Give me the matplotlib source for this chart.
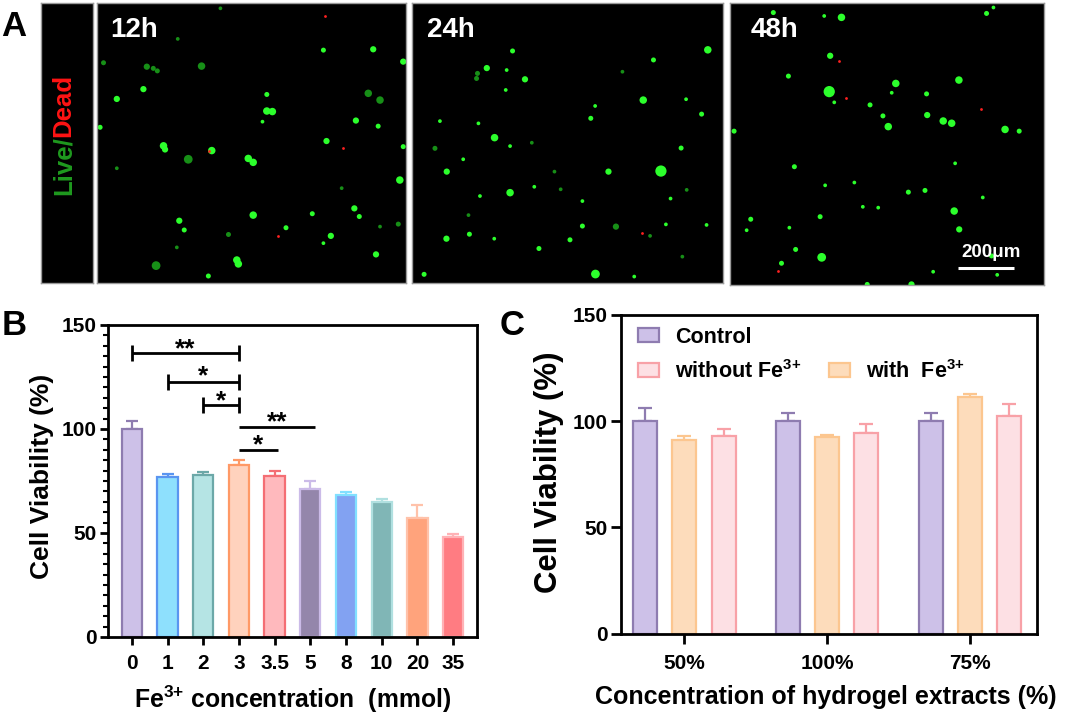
import matplotlib
matplotlib.use("Agg")
import matplotlib.pyplot as plt
from matplotlib.patches import Rectangle
import numpy as np

plt.rcParams['font.family'] = ['Liberation Sans', 'DejaVu Sans']
plt.rcParams['font.weight'] = 'bold'
plt.rcParams['mathtext.fontset'] = 'custom'
plt.rcParams['mathtext.rm'] = 'Liberation Sans:bold'
plt.rcParams['mathtext.it'] = 'Liberation Sans:bold'
plt.rcParams['mathtext.bf'] = 'Liberation Sans:bold'

# ---------------- data ----------------
# Panel A: live/dead fluorescence spots (x, y as fraction of image, y from top; d = diameter px; k = b bright / d dim)
dots12_x = [0.40, 0.894, 0.991, 0.733, 0.162, 0.183, 0.196, 0.339, 0.022, 0.151, 0.065, 0.55, 0.55, 0.568,
            0.536, 0.878, 0.916, 0.838, 0.91, 0.011, 0.743, 0.216, 0.221, 0.372, 0.296, 0.49, 0.506, 0.991,
            0.98, 0.065, 0.792, 0.833, 0.849, 0.697, 0.506, 0.267, 0.283, 0.612, 0.426, 0.757, 0.733, 0.916,
            0.975, 0.453, 0.458, 0.903, 0.192, 0.361, 0.259, 0.262]
dots12_y = [0.02, 0.166, 0.21, 0.169, 0.228, 0.234, 0.243, 0.226, 0.214, 0.308, 0.343, 0.327, 0.386, 0.388,
            0.424, 0.323, 0.347, 0.42, 0.44, 0.444, 0.493, 0.51, 0.523, 0.527, 0.558, 0.555, 0.569, 0.513,
            0.632, 0.59, 0.661, 0.733, 0.762, 0.752, 0.757, 0.777, 0.81, 0.802, 0.826, 0.831, 0.857, 0.798,
            0.789, 0.917, 0.931, 0.897, 0.937, 0.974, 0.872, 0.129]
dots12_d = [3, 5, 5, 4, 5, 4, 4, 6, 4, 5, 5, 4, 6, 6, 3, 6, 6, 5, 4, 4, 5, 6, 5, 6, 7, 6, 6, 4,
            6, 3, 3, 5, 4, 4, 6, 5, 4, 4, 4, 5, 3, 3, 4, 6, 6, 5, 7, 4, 3, 3]
dots12_k = ['d', 'b', 'b', 'b', 'd', 'd', 'd', 'd', 'd', 'b', 'b', 'b', 'b', 'b', 'b', 'd', 'd', 'b', 'b', 'b',
            'b', 'b', 'b', 'b', 'd', 'b', 'b', 'b', 'b', 'd', 'd', 'b', 'b', 'b', 'b', 'b', 'b', 'b', 'd', 'b',
            'b', 'd', 'd', 'b', 'b', 'b', 'd', 'b', 'd', 'd']
red12_x = [0.738, 0.363, 0.797, 0.585]
red12_y = [0.047, 0.527, 0.519, 0.83]

dots24_x = [0.952, 0.323, 0.24, 0.21, 0.207, 0.304, 0.363, 0.301, 0.777, 0.677, 0.744, 0.882, 0.589, 0.575,
            0.932, 0.089, 0.213, 0.265, 0.315, 0.073, 0.866, 0.164, 0.111, 0.632, 0.458, 0.801, 0.315, 0.393,
            0.478, 0.218, 0.832, 0.884, 0.548, 0.656, 0.548, 0.817, 0.948, 0.11, 0.184, 0.264, 0.508, 0.408,
            0.766, 0.87, 0.038, 0.59, 0.715, 0.181, 0.385]
dots24_y = [0.168, 0.172, 0.233, 0.252, 0.27, 0.24, 0.273, 0.311, 0.204, 0.246, 0.347, 0.344, 0.368, 0.412,
            0.397, 0.422, 0.43, 0.481, 0.511, 0.519, 0.518, 0.558, 0.602, 0.602, 0.602, 0.6, 0.677, 0.656,
            0.665, 0.689, 0.698, 0.667, 0.707, 0.798, 0.796, 0.79, 0.792, 0.841, 0.825, 0.841, 0.845, 0.876,
            0.831, 0.905, 0.968, 0.967, 0.976, 0.757, 0.499]
dots24_d = [6, 4, 5, 4, 4, 3, 5, 3, 4, 3, 6, 3, 3, 4, 4, 3, 3, 6, 3, 4, 4, 3, 5, 5, 3, 9, 6, 3,
            3, 3, 3, 3, 3, 5, 4, 3, 3, 5, 4, 3, 4, 4, 3, 3, 4, 7, 3, 3, 3]
dots24_k = ['b', 'b', 'b', 'd', 'd', 'b', 'b', 'b', 'b', 'd', 'b', 'b', 'b', 'b', 'b', 'b', 'b', 'b', 'b', 'd',
            'b', 'b', 'b', 'b', 'd', 'b', 'b', 'b', 'd', 'b', 'b', 'd', 'b', 'd', 'b', 'b', 'b', 'b', 'b', 'b',
            'b', 'b', 'd', 'd', 'b', 'b', 'b', 'd', 'd']
red24_x = [0.74]
red24_y = [0.82]

dots48_x = [0.138, 0.3, 0.355, 0.817, 0.839, 0.319, 0.186, 0.316, 0.332, 0.528, 0.515, 0.729, 0.626, 0.446,
            0.487, 0.504, 0.628, 0.679, 0.706, 0.876, 0.921, 0.013, 0.205, 0.717, 0.303, 0.396, 0.568, 0.621,
            0.423, 0.472, 0.714, 0.287, 0.066, 0.73, 0.189, 0.209, 0.292, 0.164, 0.647, 0.437, 0.578, 0.805,
            0.053, 0.851, 0.833]
dots48_y = [0.035, 0.047, 0.052, 0.038, 0.017, 0.188, 0.26, 0.315, 0.353, 0.286, 0.319, 0.274, 0.323, 0.362,
            0.401, 0.439, 0.398, 0.419, 0.427, 0.449, 0.455, 0.455, 0.581, 0.569, 0.647, 0.637, 0.671, 0.665,
            0.723, 0.726, 0.738, 0.758, 0.767, 0.803, 0.797, 0.874, 0.902, 0.923, 0.953, 0.998, 0.998, 0.69,
            0.806, 0.964, 0.897]
dots48_d = [4, 3, 6, 4, 3, 5, 4, 9, 3, 6, 3, 6, 4, 4, 4, 6, 5, 6, 6, 6, 4, 4, 4, 3, 3, 3, 4, 4,
            3, 3, 6, 4, 4, 5, 3, 4, 7, 4, 3, 4, 5, 3, 3, 3, 4]
dots48_k = ['b'] * 45
red48_x = [0.347, 0.368, 0.799, 0.152]
red48_y = [0.207, 0.338, 0.377, 0.949]

panel_titles = ['12h', '24h', '48h']

# Panel B
fe_labels = ['0', '1', '2', '3', '3.5', '5', '8', '10', '20', '35']
fe_viab = [100, 77.0, 78.1, 82.8, 77.6, 71.2, 68.3, 64.8, 57.1, 48.1]
fe_sd = [4.0, 1.6, 1.3, 2.2, 2.1, 3.7, 1.2, 1.5, 6.3, 1.2]
fe_fill = ['#cdc1e8', '#8ee0fd', '#b5e4e4', '#ffd2bd', '#ffb9bd', '#9486ab', '#82a2f2', '#80b6b6', '#ffa37c', '#ff7c82']
fe_edge = ['#8e7cb0', '#5a95f0', '#6ca8a8', '#ff9966', '#f46e74', '#cbbbe8', '#82e0ff', '#b0e0e0', '#ffc2aa', '#ffb2b6']
# significance: (left index, right index, line value, star text, with end ticks)
sig_left = [0, 1, 2, 3, 3]
sig_right = [3, 3, 3, 5.13, 4.1]
sig_y = [136.4, 122.8, 111.6, 101.2, 90.0]
sig_star_y = [142.4, 129.4, 117.4, 107.3, 96.3]
sig_text = ['**', '*', '*', '**', '*']
sig_caps = [True, True, True, False, False]

# Panel C
ext_groups = ['50%', '100%', '75%']
ctrl_viab = [100, 100, 100]
ctrl_sd = [6.2, 3.7, 3.7]
with_viab = [91.0, 92.5, 111.5]
with_sd = [2.0, 0.8, 1.3]
without_viab = [93.0, 94.5, 102.5]
without_sd = [3.2, 4.0, 5.5]
c_fill = {'ctrl': '#cdc1e8', 'with': '#fddcbb', 'without': '#fde0e4'}
c_edge = {'ctrl': '#8e7cb0', 'with': '#fcc68f', 'without': '#f8a1a7'}

FE = 'Fe$^{3{+}}$'

# ---------------- figure ----------------
W, H = 1065, 716
fig = plt.figure(figsize=(W / 100, H / 100), dpi=100)


def ax_px(x0, y0, x1, y1):
    return fig.add_axes([x0 / W, 1 - y1 / H, (x1 - x0) / W, (y1 - y0) / H])


# ---- Panel A ----
strip = ax_px(41, 2.7, 93, 283.3)
strip.set_facecolor('black')
strip.set_xticks([]); strip.set_yticks([])
for s in strip.spines.values():
    s.set_color('#9a9a9a'); s.set_linewidth(1)
strip.text(0.43, 0.523, 'Live/', color='#1f9a1f', fontsize=18.5, rotation=90,
           ha='center', va='top', transform=strip.transAxes)
strip.text(0.43, 0.523, 'Dead', color='#ff1414', fontsize=18.5, rotation=90,
           ha='center', va='bottom', transform=strip.transAxes)

img_boxes = [(96.7, 2.7, 406, 283.3), (412.3, 2.7, 722.7, 283.3), (730, 2.7, 1044, 285)]
title_x = [0.043, 0.046, 0.067]
all_dots = [(dots12_x, dots12_y, dots12_d, dots12_k, red12_x, red12_y),
            (dots24_x, dots24_y, dots24_d, dots24_k, red24_x, red24_y),
            (dots48_x, dots48_y, dots48_d, dots48_k, red48_x, red48_y)]
img_axes = []
for i, box in enumerate(img_boxes):
    a = ax_px(*box)
    a.set_facecolor('black')
    a.set_xlim(0, 1); a.set_ylim(1, 0)
    a.set_xticks([]); a.set_yticks([])
    for s in a.spines.values():
        s.set_color('#9a9a9a'); s.set_linewidth(1)
    xs, ys, ds, ks, rx, ry = all_dots[i]
    sizes = [(1.25 * d / 1.389) ** 2 for d in ds]
    cols = ['#2cff2c' if k == 'b' else '#178f17' for k in ks]
    a.scatter(xs, ys, s=sizes, c=cols, linewidths=0, zorder=2)
    a.scatter(rx, ry, s=4, c='#ff2020', linewidths=0, zorder=3)
    a.text(title_x[i], 0.051, panel_titles[i], color='white', fontsize=20,
           ha='left', va='top', transform=a.transData)
    img_axes.append(a)

a48 = img_axes[2]
a48.plot([0.726, 0.904], [0.94, 0.94], color='white', lw=2.2, solid_capstyle='butt', zorder=4)
a48.text(0.832, 0.885, '200μm', color='white', fontsize=13.5, ha='center', va='center', zorder=4)

# ---- Panel B ----
axB = ax_px(108, 325, 477, 637)
xB = np.arange(len(fe_labels))
axB.bar(xB, fe_viab, width=0.57, color=fe_fill, edgecolor=fe_edge, linewidth=1.6, zorder=2)
for xi, v, e, c in zip(xB, fe_viab, fe_sd, fe_edge):
    axB.errorbar([xi], [v], yerr=[[0], [e]], fmt='none', ecolor=c, elinewidth=1.6,
                 capsize=4, capthick=1.6, zorder=1)
axB.set_xlim(-0.667, 9.67)
axB.set_ylim(0, 150)
axB.set_yticks([0, 50, 100, 150])
axB.set_yticks(np.arange(0, 151, 5), minor=True)
axB.set_xticks(xB)
axB.set_xticklabels(fe_labels)
axB.tick_params(axis='y', which='major', length=6, width=2, pad=2, labelsize=15)
axB.tick_params(axis='y', which='minor', length=3.5, width=1.5)
axB.tick_params(axis='x', which='major', length=6, width=2, pad=6, labelsize=15)
for s in axB.spines.values():
    s.set_linewidth(2)
for l, r, y, sy, t, cap in zip(sig_left, sig_right, sig_y, sig_star_y, sig_text, sig_caps):
    axB.plot([l, r], [y, y], color='black', lw=2, solid_capstyle='butt', zorder=3)
    if cap:
        for xe in (l, r):
            axB.plot([xe, xe], [y - 3.85, y + 3.85], color='black', lw=2, solid_capstyle='butt', zorder=3)
    axB.annotate(t, xy=((l + r) / 2, sy), xytext=(0, -0.58 * 19), textcoords='offset points',
                 ha='center', va='baseline', fontsize=19, color='black')
axB.text(-0.178, 0.514, 'Cell Viability (%)', rotation=90, fontsize=19, ha='center', va='center',
         transform=axB.transAxes)
axB.text(0.5, -0.2276, FE + ' concentration  (mmol)', fontsize=17.8, ha='center', va='baseline',
         transform=axB.transAxes)

# ---- Panel C ----
axC = ax_px(620.5, 315, 1036.5, 633.5)
xC = np.arange(len(ext_groups))
bw = 0.168
off = 0.274
bc = axC.bar(xC - off, ctrl_viab, width=bw, color=c_fill['ctrl'], edgecolor=c_edge['ctrl'], linewidth=1.6,
             zorder=2, label='Control')
bwi = axC.bar(xC, with_viab, width=bw, color=c_fill['with'], edgecolor=c_edge['with'], linewidth=1.6,
              zorder=2, label='with  ' + FE)
bwo = axC.bar(xC + off, without_viab, width=bw, color=c_fill['without'], edgecolor=c_edge['without'],
              linewidth=1.6, zorder=2, label='without ' + FE)
for xs, vals, sds, key in [(xC - off, ctrl_viab, ctrl_sd, 'ctrl'), (xC, with_viab, with_sd, 'with'),
                           (xC + off, without_viab, without_sd, 'without')]:
    axC.errorbar(xs, vals, yerr=[np.zeros(len(vals)), sds], fmt='none', ecolor=c_edge[key],
                 elinewidth=1.6, capsize=4.8, capthick=1.6, zorder=1)
axC.set_xlim(-0.448, 2.467)
axC.set_ylim(0, 150)
axC.set_yticks([0, 50, 100, 150])
axC.set_xticks(xC)
axC.set_xticklabels(ext_groups)
axC.tick_params(axis='y', length=7, width=2, pad=2, labelsize=15)
axC.tick_params(axis='x', length=7, width=2, pad=8, labelsize=15)
for s in axC.spines.values():
    s.set_linewidth(2)
blank = Rectangle((0, 0), 1, 1, visible=False)
leg = axC.legend([bc, bwo, blank, bwi], ['Control', 'without ' + FE, '', 'with  ' + FE],
                 ncol=2, loc='upper left', bbox_to_anchor=(0.042, 0.9636), frameon=False,
                 fontsize=15.5, handlelength=1.0, handleheight=0.62, handletextpad=0.74,
                 columnspacing=1.25, labelspacing=0.58, borderpad=0, borderaxespad=0)
axC.text(-0.173, 0.505, 'Cell Viability (%)', rotation=90, fontsize=22.4, ha='center', va='center',
         transform=axC.transAxes)
axC.text(0.494, -0.221, 'Concentration of hydrogel extracts (%)', fontsize=18, ha='center', va='baseline',
         transform=axC.transAxes)

# panel letters
fig.text(1.5 / W, 1 - 10 / H, 'A', fontsize=25, ha='left', va='top')
fig.text(1.7 / W, 1 - 308.5 / H, 'B', fontsize=25, ha='left', va='top')
fig.text(499.7 / W, 1 - 308.5 / H, 'C', fontsize=25, ha='left', va='top')

fig.savefig('out.png', dpi=100, facecolor='white')
